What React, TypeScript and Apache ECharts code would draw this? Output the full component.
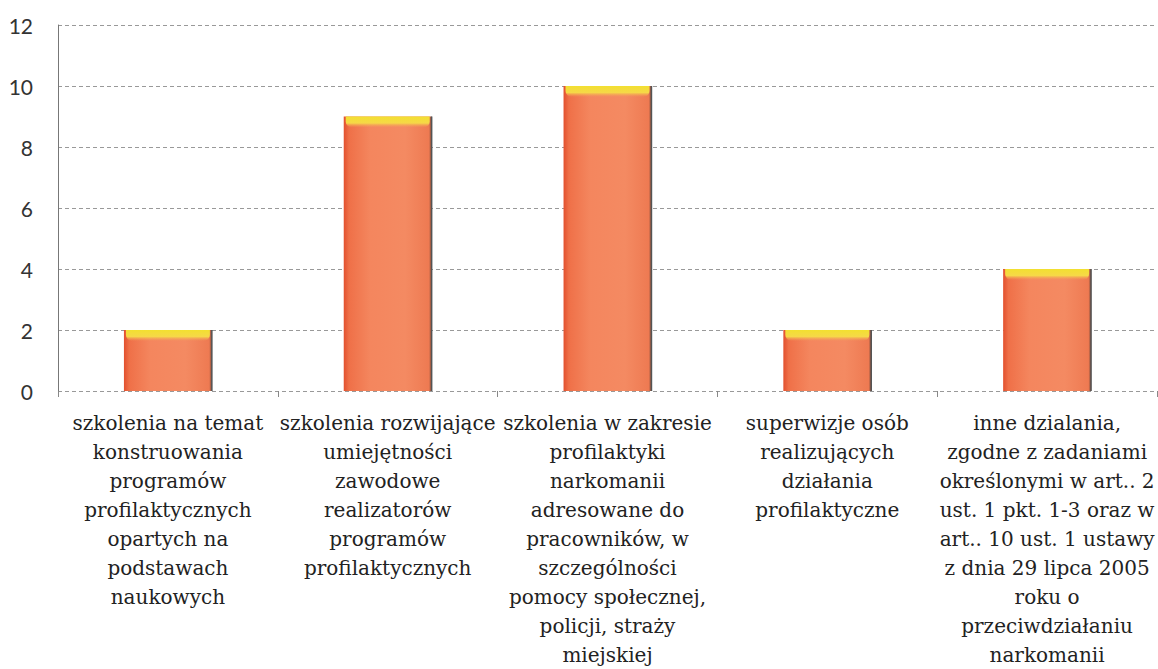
import React, { useEffect, useRef } from "react";
import * as echarts from "echarts";

const categories: string[] = [
  "szkolenia na temat\nkonstruowania\nprogramów\nprofilaktycznych\nopartych na\npodstawach\nnaukowych",
  "szkolenia rozwijające\numiejętności\nzawodowe\nrealizatorów\nprogramów\nprofilaktycznych",
  "szkolenia w zakresie\nprofilaktyki\nnarkomanii\nadresowane do\npracowników, w\nszczególności\npomocy społecznej,\npolicji, straży\nmiejskiej",
  "superwizje osób\nrealizujących\ndziałania\nprofilaktyczne",
  "inne dzialania,\nzgodne z zadaniami\nokreślonymi w art.. 2\nust. 1 pkt. 1-3 oraz w\nart.. 10 ust. 1 ustawy\nz dnia 29 lipca 2005\nroku o\nprzeciwdziałaniu\nnarkomanii",
];
const values: number[] = [2, 9, 10, 2, 4];
const yTicks = { min: 0, max: 12, interval: 2 };

export default function App() {
  const ref = useRef<HTMLDivElement>(null);
  useEffect(() => {
    if (!ref.current) return;
    const chart = echarts.init(ref.current, null, { renderer: "svg" });
    const option: any = {
      animation: false,
      backgroundColor: "#ffffff",
      grid: { left: 58, right: 1, top: 25, bottom: 277, containLabel: false },
      xAxis: {
        type: "category",
        data: categories,
        boundaryGap: true,
        axisLine: { show: false },
        axisTick: { show: true, alignWithLabel: false, length: 6, lineStyle: { color: "#888" } },
        axisLabel: {
          interval: 0,
          margin: 17,
          fontFamily: "DejaVu Serif",
          fontSize: 20,
          lineHeight: 29,
          color: "#222",
          align: "center",
          verticalAlign: "top",
        },
      },
      yAxis: {
        type: "value",
        min: yTicks.min,
        max: yTicks.max,
        interval: yTicks.interval,
        axisLine: { show: true, lineStyle: { color: "#777", width: 1 } },
        axisTick: { show: false },
        splitLine: { show: true, lineStyle: { color: "#999", type: [4, 3], width: 1 } },
        axisLabel: {
          margin: 25,
          fontFamily: "Lato",
          fontSize: 21,
          color: "#333",
        },
      },
      series: [
        {
          type: "custom",
          data: values.map((v, i) => [i, v]),
          encode: { x: 0, y: 1 },
          renderItem: (params: any, api: any) => {
            const idx = api.value(0);
            const val = api.value(1);
            const top = api.coord([idx, val]);
            const base = api.coord([idx, 0]);
            const bandW = api.size([1, 0])[0];
            const w = bandW * 0.4;
            const x = top[0] - w / 2;
            const y = top[1];
            const h = base[1] - top[1];
            const body = new echarts.graphic.LinearGradient(0, 0, 1, 0, [
              { offset: 0, color: "#e2502e" },
              { offset: 0.06, color: "#ef7048" },
              { offset: 0.3, color: "#f4865e" },
              { offset: 0.7, color: "#f48a62" },
              { offset: 0.97, color: "#ee7a52" },
              { offset: 1, color: "#7a4a3a" },
            ]);
            const cap = new echarts.graphic.LinearGradient(0, 0, 0, 1, [
              { offset: 0, color: "#f2e030" },
              { offset: 0.6, color: "#f6d848" },
              { offset: 1, color: "rgba(244,160,90,0)" },
            ]);
            return {
              type: "group",
              children: [
                { type: "rect", shape: { x, y, width: w, height: h }, style: { fill: body } },
                {
                  type: "rect",
                  shape: { x: x + 2, y, width: w - 4, height: Math.min(11, h), r: [0, 0, 6, 6] },
                  style: { fill: cap },
                },
                {
                  type: "line",
                  shape: { x1: x + w, y1: y, x2: x + w, y2: base[1] },
                  style: { stroke: "#555", lineWidth: 1.5 },
                },
              ],
            };
          },
        },
      ],
    };
    chart.setOption(option);
    return () => chart.dispose();
  }, []);
  return <div ref={ref} style={{ width: 1158, height: 669, position: "absolute", left: 0, top: 0 }} />;
}
